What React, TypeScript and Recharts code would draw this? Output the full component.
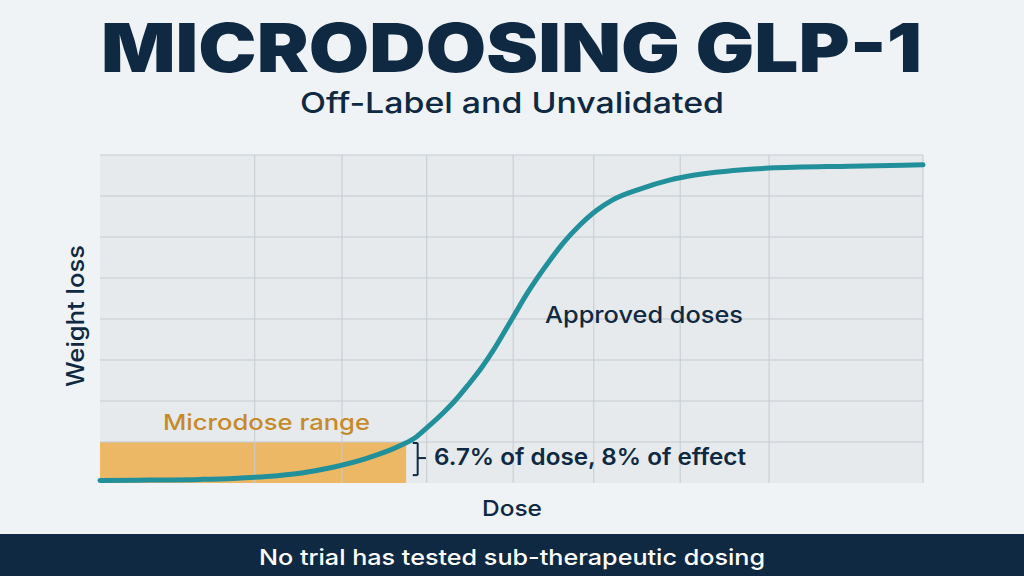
import {
  LineChart,
  Line,
  XAxis,
  YAxis,
  CartesianGrid,
  ReferenceArea,
  ReferenceLine,
} from 'recharts';

// dose (% of max) vs. weight-loss effect (% of max)
const DOSE = [
  0, 6.1, 12.2, 16.2, 20.3, 24.3, 28.3, 32.4, 36.5, 38.5, 39.7, 41.9, 43.1, 44.7, 46.4, 47.8, 49.0, 50.2,
  51.9, 54.7, 56.3, 58.1, 60.4, 62.3, 65.6, 69.3, 72.1, 81.3, 91.1, 100,
];
const EFFECT = [
  0.8, 0.9, 1.1, 1.4, 2.0, 3.0, 4.8, 7.5, 11.4, 14.2, 16.8, 21.9, 25.0, 29.8, 35.3, 40.5, 45.5, 50.6,
  57.8, 68.0, 73.2, 78.1, 83.2, 86.3, 89.6, 92.4, 93.8, 96.0, 96.6, 97.0,
];

// grid positions (no tick labels are shown)
const X_TICKS = [18.8, 29.4, 39.7, 50.2, 60, 70.5, 81.3, 100];
const Y_TICKS = [12.5, 25, 37.5, 50, 62.5, 75, 87.5, 100];

const MICRO_DOSE_MAX = 37.2;
const MICRO_EFFECT_MAX = 12.5;

// bracket beside the microdose band
const BRACKET_X = 38.6;
const BRACKET_SERIF_X = 38.0;
const BRACKET_TICK_X = 39.6;
const BRACKET_TOP = 12.2;
const BRACKET_BOTTOM = 2.4;
const BRACKET_MID = 7.6;

const NAVY = '#0F2942';
const TEAL = '#22909A';
const ORANGE = '#ECAF4E';
const ORANGE_TEXT = '#C68A2B';
const PAGE = '#EFF3F6';
const PLOT = '#E6EAEC';
const GRID = '#C6CBD0';

const data = DOSE.map((d, i) => ({ dose: d, effect: EFFECT[i] }));

const FONT = 'Inter, "Noto Sans", sans-serif';

export default function App() {
  const bracketStyle = { stroke: NAVY, strokeWidth: 2 };
  return (
    <div
      style={{
        position: 'absolute',
        left: 0,
        top: 0,
        width: 1024,
        height: 576,
        background: PAGE,
        overflow: 'hidden',
      }}
    >
      <LineChart
        width={1024}
        height={576}
        data={data}
        margin={{ top: 155, right: 101, bottom: 93, left: 100 }}
        style={{ position: 'absolute', left: 0, top: 0 }}
      >
        <CartesianGrid fill={PLOT} horizontal={false} vertical={false} />
        <XAxis
          type="number"
          dataKey="dose"
          domain={[0, 100]}
          ticks={X_TICKS}
          tick={false}
          tickLine={false}
          height={0}
          axisLine={{ stroke: NAVY, strokeWidth: 3 }}
        />
        <YAxis
          type="number"
          domain={[0, 100]}
          ticks={Y_TICKS}
          tick={false}
          tickLine={false}
          width={0}
          axisLine={{ stroke: NAVY, strokeWidth: 3 }}
        />
        {X_TICKS.map((v) => (
          <ReferenceLine key={`gx${v}`} x={v} stroke={GRID} strokeWidth={1} />
        ))}
        {Y_TICKS.map((v) => (
          <ReferenceLine key={`gy${v}`} y={v} stroke={GRID} strokeWidth={1} />
        ))}
        <ReferenceArea
          x1={0}
          x2={MICRO_DOSE_MAX}
          y1={0}
          y2={MICRO_EFFECT_MAX}
          fill={ORANGE}
          fillOpacity={0.85}
          stroke="none"
        />
        <ReferenceLine
          segment={[{ x: BRACKET_X, y: BRACKET_TOP }, { x: BRACKET_X, y: BRACKET_BOTTOM }]}
          {...bracketStyle}
        />
        <ReferenceLine
          segment={[{ x: BRACKET_SERIF_X, y: BRACKET_TOP }, { x: BRACKET_X, y: BRACKET_TOP }]}
          {...bracketStyle}
        />
        <ReferenceLine
          segment={[{ x: BRACKET_SERIF_X, y: BRACKET_BOTTOM }, { x: BRACKET_X, y: BRACKET_BOTTOM }]}
          {...bracketStyle}
        />
        <ReferenceLine
          segment={[{ x: BRACKET_X, y: BRACKET_MID }, { x: BRACKET_TICK_X, y: BRACKET_MID }]}
          {...bracketStyle}
        />
        <Line
          type="monotone"
          dataKey="effect"
          stroke={TEAL}
          strokeWidth={5}
          strokeLinecap="round"
          dot={false}
          activeDot={false}
          isAnimationActive={false}
        />
      </LineChart>

      <svg
        width={1024}
        height={576}
        style={{ position: 'absolute', left: 0, top: 0, pointerEvents: 'none' }}
        fontFamily={FONT}
      >
        <text x={101} y={72} fontSize={68} fontWeight={900} fill={NAVY} textLength={821} lengthAdjust="spacingAndGlyphs">
          MICRODOSING GLP-1
        </text>
        <text x={300} y={113} fontSize={29} fontWeight={500} fill={NAVY} textLength={424} lengthAdjust="spacingAndGlyphs">
          Off-Label and Unvalidated
        </text>

        <text x={163} y={430} fontSize={22} fontWeight={500} fill={ORANGE_TEXT} textLength={207} lengthAdjust="spacingAndGlyphs">
          Microdose range
        </text>
        <text x={545} y={323} fontSize={23} fontWeight={500} fill={NAVY} textLength={198} lengthAdjust="spacingAndGlyphs">
          Approved doses
        </text>
        <text x={434} y={465} fontSize={23} fontWeight={600} fill={NAVY} textLength={312} lengthAdjust="spacingAndGlyphs">
          6.7% of dose, 8% of effect
        </text>

        <text x={482} y={516} fontSize={22} fontWeight={500} fill={NAVY} textLength={60} lengthAdjust="spacingAndGlyphs">
          Dose
        </text>
        <text
          x={-71}
          y={0}
          fontSize={24}
          fontWeight={500}
          fill={NAVY}
          textLength={142}
          lengthAdjust="spacingAndGlyphs"
          transform="translate(84 316) rotate(-90)"
        >
          Weight loss
        </text>

        <rect x={0} y={534} width={1024} height={42} fill={NAVY} />
        <text x={259} y={565} fontSize={22} fontWeight={500} fill="#FFFFFF" textLength={506} lengthAdjust="spacingAndGlyphs">
          No trial has tested sub-therapeutic dosing
        </text>
      </svg>
    </div>
  );
}
